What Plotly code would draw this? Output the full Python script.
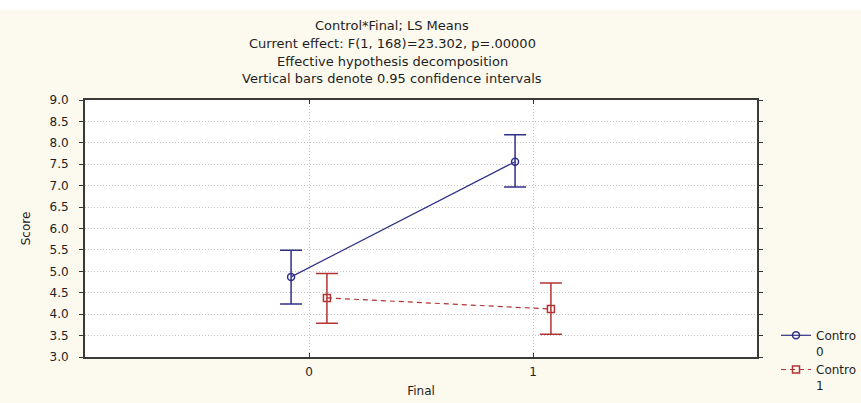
import plotly.graph_objects as go

# ---- data ----
final_levels = [0, 1]
control0_mean = [4.87, 7.56]
control0_upper = [5.49, 8.19]
control0_lower = [4.24, 6.97]
control1_mean = [4.38, 4.12]
control1_upper = [4.95, 4.73]
control1_lower = [3.79, 3.53]
y_ticks = [3.0, 3.5, 4.0, 4.5, 5.0, 5.5, 6.0, 6.5, 7.0, 7.5, 8.0, 8.5, 9.0]
title_lines = [
    "Control*Final; LS Means",
    "Current effect: F(1, 168)=23.302, p=.00000",
    "Effective hypothesis decomposition",
    "Vertical bars denote 0.95 confidence intervals",
]

W, H = 861, 403
ML, MR, MT, MB = 85, 104, 100, 46
PW, PH = W - ML - MR, H - MT - MB
FONT = "DejaVu Sans"
BLUE = "#2f2f86"
RED = "#b03434"
TXT = "#1e1e1e"
OFF = 0.08


def px2x(px):
    return (px - ML) / PW


def px2y(py):
    return (H - MB - py) / PH


fig = go.Figure()

fig.add_trace(go.Scatter(
    x=[v - OFF for v in final_levels], y=control0_mean,
    mode="lines+markers", name="Contro<br>0",
    line=dict(color=BLUE, width=1.2),
    marker=dict(symbol="circle-open", size=7, color=BLUE, line=dict(width=1.5)),
    error_y=dict(type="data", symmetric=False,
                 array=[u - m for u, m in zip(control0_upper, control0_mean)],
                 arrayminus=[m - l for m, l in zip(control0_mean, control0_lower)],
                 color=BLUE, thickness=1.5, width=11),
))
fig.add_trace(go.Scatter(
    x=[v + OFF for v in final_levels], y=control1_mean,
    mode="lines+markers", name="Contro<br>1",
    line=dict(color=RED, width=1.2, dash="5px,4px"),
    marker=dict(symbol="square-open", size=7, color=RED, line=dict(width=1.5)),
    error_y=dict(type="data", symmetric=False,
                 array=[u - m for u, m in zip(control1_upper, control1_mean)],
                 arrayminus=[m - l for m, l in zip(control1_mean, control1_lower)],
                 color=RED, thickness=1.5, width=11),
))

annotations = []
for i, t in enumerate(title_lines):
    annotations.append(dict(
        text=t, xref="paper", yref="paper", x=px2x(392), y=px2y(26 + 17.6 * i),
        xanchor="center", yanchor="middle", showarrow=False,
        font=dict(family=FONT, size=13, color=TXT),
    ))

fig.update_layout(
    width=W, height=H,
    margin=dict(l=ML, r=MR, t=MT, b=MB, autoexpand=False),
    paper_bgcolor="#fcf9ef",
    plot_bgcolor="#ffffff",
    font=dict(family=FONT, size=12, color=TXT),
    annotations=annotations,
    shapes=[dict(type="rect", xref="paper", yref="paper",
                 x0=px2x(0), x1=px2x(W), y0=px2y(10), y1=px2y(0),
                 fillcolor="#ffffff", line=dict(width=0), layer="below")],
    showlegend=True,
    legend=dict(x=px2x(776), y=px2y(321), xanchor="left", yanchor="top",
                bgcolor="rgba(0,0,0,0)", valign="top",
                font=dict(family=FONT, size=12, color=TXT),
                tracegroupgap=0),
)

fig.update_xaxes(
    range=[-1, 2], tickvals=final_levels, ticktext=[str(v) for v in final_levels],
    ticks="inside", ticklen=4, tickcolor="#333333",
    showline=True, linecolor="#3a3a3a", linewidth=2, mirror="ticks",
    showgrid=True, gridcolor="#c4c4c4", griddash="1px,2px", gridwidth=1,
    zeroline=False, ticklabelstandoff=3, automargin=False,
    title=dict(text="Final", font=dict(family=FONT, size=12), standoff=8),
    tickfont=dict(family=FONT, size=12),
)
fig.update_yaxes(
    range=[3, 9], tickvals=y_ticks, ticktext=[f"{v:.1f}" for v in y_ticks],
    ticks="outside", ticklen=4, tickcolor="#333333",
    showline=True, linecolor="#3a3a3a", linewidth=2, mirror="ticks",
    showgrid=True, gridcolor="#c4c4c4", griddash="1px,2px", gridwidth=1,
    zeroline=False, ticklabelstandoff=8, automargin=False,
    title=dict(text="Score", font=dict(family=FONT, size=12), standoff=16),
    tickfont=dict(family=FONT, size=12),
)

fig.write_html("out.html")
